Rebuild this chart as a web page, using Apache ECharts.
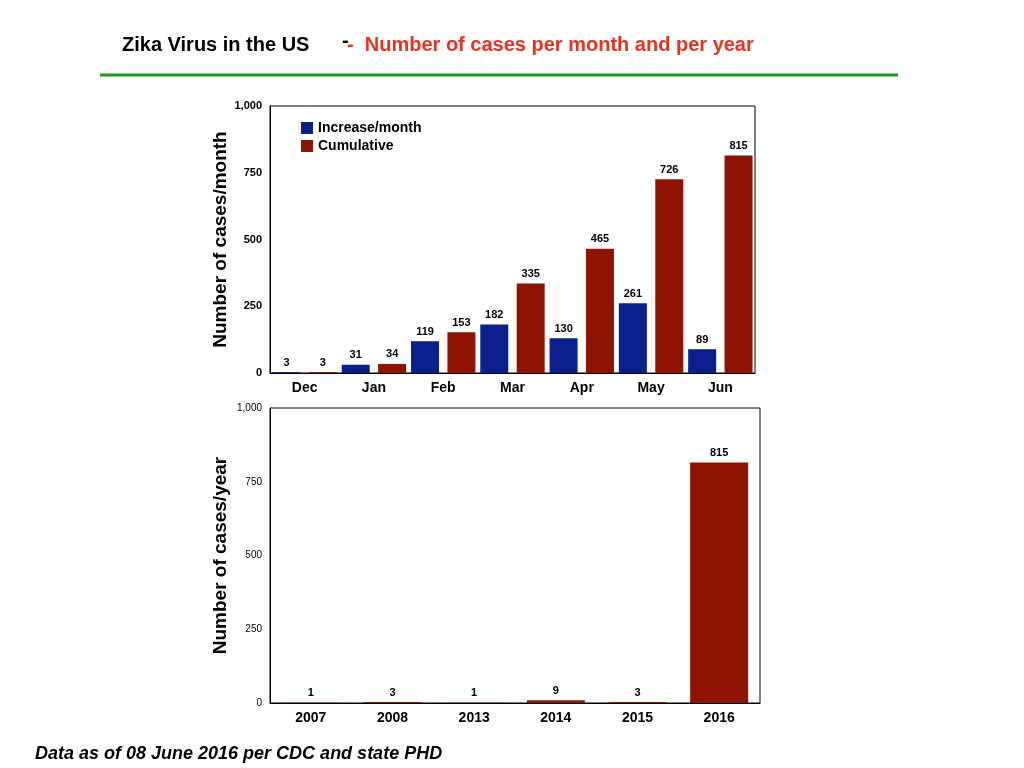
<!DOCTYPE html>
<html><head><meta charset="utf-8">
<script src="https://cdn.jsdelivr.net/npm/echarts@6/dist/echarts.min.js"></script>
<style>
body{margin:0;background:#fff;font-family:Helvetica,Arial,"Liberation Sans",sans-serif}
#c{width:1024px;height:768px}
</style></head>
<body><div id="c"></div>
<script>
var months = ['Dec', 'Jan', 'Feb', 'Mar', 'Apr', 'May', 'Jun'];
var increase = [3, 31, 119, 182, 130, 261, 89];
var cumulative = [3, 34, 153, 335, 465, 726, 815];
var years = ['2007', '2008', '2013', '2014', '2015', '2016'];
var perYear = [1, 3, 1, 9, 3, 815];
var yTicks = [0, 250, 500, 750, 1000];

var blue = '#0b1f8c', red = '#8e1300';
var chart = echarts.init(document.getElementById('c'));

var lbl = {show: true, position: 'top', color: '#000', fontWeight: 'bold', fontSize: 11, distance: 4};

chart.setOption({
	animation: false,
	title: [{
		text: 'Zika Virus in the US',
		left: 117, top: 30,
		textStyle: {fontSize: 20, fontWeight: 'bold', color: '#000'}
	}, {
		text: '-  Number of cases per month and per year',
		left: 342, top: 30,
		textStyle: {fontSize: 20, fontWeight: 'bold', color: '#e8321e'}
	}, {
		text: 'Data as of 08 June 2016 per CDC and state PHD',
		left: 30, top: 740,
		textStyle: {fontSize: 18, fontWeight: 'bold', fontStyle: 'italic', color: '#000'}
	}],
	graphic: [{
		type: 'line', shape: {x1: 100, y1: 75, x2: 898, y2: 75},
		style: {stroke: '#1c9a1c', lineWidth: 3}
	}, {
		type: 'text', left: 342, top: 31,
		style: {text: '-', fontSize: 20, fontWeight: 'bold', fill: '#000'}
	}],
	legend: {
		data: ['Increase/month', 'Cumulative'],
		left: 296, top: 116, orient: 'vertical', itemGap: 4,
		itemWidth: 12, itemHeight: 12, icon: 'rect',
		textStyle: {fontSize: 14, fontWeight: 'bold', color: '#000'}
	},
	grid: [
		{left: 270, width: 485, top: 106, height: 267, show: true, borderColor: '#000', borderWidth: 1},
		{left: 270, width: 490, top: 408, height: 295, show: true, borderColor: '#000', borderWidth: 1}
	],
	xAxis: [{
		gridIndex: 0, type: 'category', data: months,
		axisTick: {show: false}, axisLine: {lineStyle: {color: '#000'}},
		axisLabel: {color: '#000', fontWeight: 'bold', fontSize: 14, margin: 8}
	}, {
		gridIndex: 1, type: 'category', data: years,
		axisTick: {show: false}, axisLine: {lineStyle: {color: '#000'}},
		axisLabel: {color: '#000', fontWeight: 'bold', fontSize: 14, margin: 8}
	}],
	yAxis: [{
		gridIndex: 0, type: 'value', min: 0, max: 1000, interval: 250,
		splitLine: {show: false}, axisLine: {show: true, lineStyle: {color: '#000'}},
		axisLabel: {color: '#000', fontWeight: 'bold', fontSize: 11},
		name: 'Number of cases/month', nameLocation: 'middle', nameGap: 40, nameRotate: 90,
		nameTextStyle: {fontSize: 19, fontWeight: 'bold', color: '#000'}
	}, {
		gridIndex: 1, type: 'value', min: 0, max: 1000, interval: 250,
		splitLine: {show: false}, axisLine: {show: true, lineStyle: {color: '#000'}},
		axisLabel: {color: '#000', fontSize: 10},
		name: 'Number of cases/year', nameLocation: 'middle', nameGap: 40, nameRotate: 90,
		nameTextStyle: {fontSize: 19, fontWeight: 'bold', color: '#000'}
	}],
	series: [{
		name: 'Increase/month', type: 'bar', xAxisIndex: 0, yAxisIndex: 0,
		data: increase, barWidth: 28, barGap: '30%',
		itemStyle: {color: blue}, label: lbl
	}, {
		name: 'Cumulative', type: 'bar', xAxisIndex: 0, yAxisIndex: 0,
		data: cumulative, barWidth: 28,
		itemStyle: {color: red}, label: lbl
	}, {
		name: 'Per year', type: 'bar', xAxisIndex: 1, yAxisIndex: 1,
		data: perYear, barWidth: 58,
		itemStyle: {color: red}, label: lbl
	}]
});
</script></body></html>
